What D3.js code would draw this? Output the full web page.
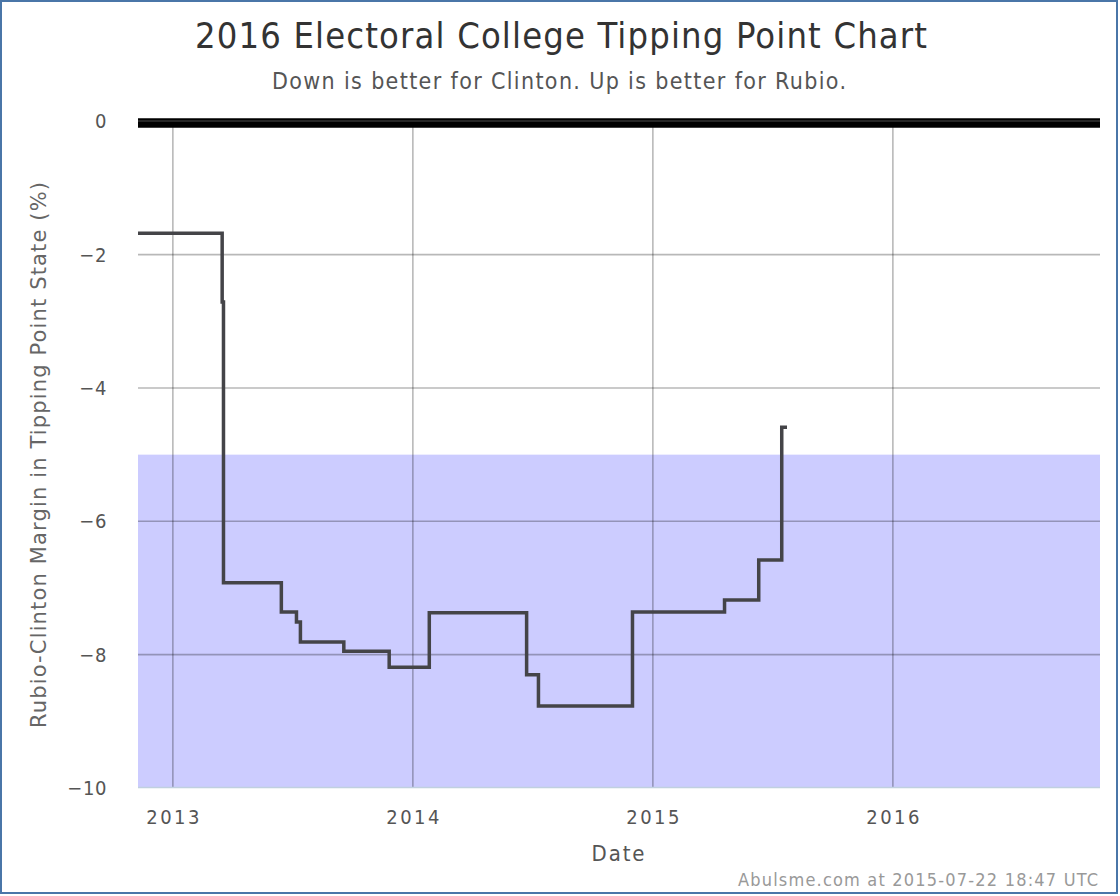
<!DOCTYPE html>
<html>
<head>
<meta charset="utf-8">
<script src="https://cdn.jsdelivr.net/npm/d3@7"></script>
<style>
html,body{margin:0;padding:0;background:#fff;}
svg{display:block;}
text{font-family:"DejaVu Sans Condensed","DejaVu Sans",sans-serif;}
</style>
</head>
<body>
<svg id="chart" width="1120" height="896"></svg>
<script>
const dates = ["2012-11-09","2013-03-17","2013-03-19","2013-06-15","2013-07-08","2013-07-14","2013-09-18","2013-11-26","2014-01-26","2014-06-23","2014-07-11","2014-12-01","2015-04-20","2015-06-11","2015-07-16","2015-07-24"];
const margins = [-1.68,-2.71,-6.92,-7.36,-7.51,-7.81,-7.95,-8.19,-7.37,-8.30,-8.77,-7.36,-7.18,-6.58,-4.59,-4.59];
const yTicks = [0,-2,-4,-6,-8,-10];
const xTickYears = ["2013","2014","2015","2016"];
const xDomain = ["2012-11-09","2016-11-11"];
const bandRange = [-5,-10];

const parse = d3.timeParse("%Y-%m-%d");
const data = dates.map((d,i)=>({date:parse(d), v:margins[i]}));

const svg = d3.select("#chart");
const L=138, R=1100, T=121.3, B=788;
const x = d3.scaleTime().domain(xDomain.map(parse)).range([L,R]);
const y = d3.scaleLinear().domain([0,-10]).range([T,B]);

// border
svg.append("rect").attr("x",1).attr("y",1).attr("width",1116).attr("height",892)
  .attr("fill","none").attr("stroke","#4a76a8").attr("stroke-width",2);

// band
svg.append("rect").attr("x",L).attr("y",y(bandRange[0])).attr("width",R-L)
  .attr("height",y(bandRange[1])-y(bandRange[0])).attr("fill","#ccccff");

// grid
const gridColor = "rgba(0,0,0,0.28)";
const xTickDates = xTickYears.map(s=>parse(s+"-01-01"));
svg.append("g").selectAll("line").data(xTickDates).join("line")
  .attr("x1",d=>x(d)).attr("x2",d=>x(d))
  .attr("y1",T).attr("y2",B).attr("stroke",gridColor).attr("stroke-width",1.6);
svg.append("g").selectAll("line").data(yTicks.filter(t=>t!==0 && t!==-10)).join("line")
  .attr("x1",L).attr("x2",R).attr("y1",d=>y(d)).attr("y2",d=>y(d))
  .attr("stroke",gridColor).attr("stroke-width",1.6);
// bottom axis line
svg.append("line").attr("x1",L).attr("x2",R).attr("y1",B-0.5).attr("y2",B-0.5)
  .attr("stroke","#c0d0e0").attr("stroke-width",1.5);

// zero line
svg.append("line").attr("x1",L).attr("x2",R).attr("y1",y(0)+1.7).attr("y2",y(0)+1.7)
  .attr("stroke","#000").attr("stroke-width",9.4);
svg.append("line").attr("x1",L).attr("x2",R).attr("y1",y(0)-0.3).attr("y2",y(0)-0.3)
  .attr("stroke","#333").attr("stroke-width",1.4);

// y tick labels
svg.append("g").selectAll("text").data(yTicks).join("text")
  .attr("x",107).attr("y",d=>y(d)+7).attr("text-anchor","end")
  .attr("font-size",20).attr("fill","#555").attr("letter-spacing",0.6)
  .text(d=>d3.format("")(d).replace("-","\u2212"));

// x tick labels
svg.append("g").selectAll("text").data(xTickDates).join("text")
  .attr("x",d=>x(d)).attr("y",824).attr("text-anchor","middle")
  .attr("font-size",20).attr("fill","#555")
  .attr("textLength",53).attr("lengthAdjust","spacing")
  .text(d=>d3.timeFormat("%Y")(d));

// step line
const line = d3.line().x(d=>x(d.date)).y(d=>y(d.v)).curve(d3.curveStepAfter);
svg.append("path").datum(data).attr("d",line).attr("fill","none")
  .attr("stroke","#444448").attr("stroke-width",3.5).attr("stroke-linejoin","miter");

// titles
svg.append("text").attr("x",561).attr("y",48).attr("text-anchor","middle")
  .attr("font-size",36).attr("fill","#333")
  .attr("textLength",732).attr("lengthAdjust","spacing")
  .text("2016 Electoral College Tipping Point Chart");
svg.append("text").attr("x",559).attr("y",89).attr("text-anchor","middle")
  .attr("font-size",23).attr("fill","#555")
  .attr("textLength",574).attr("lengthAdjust","spacing")
  .text("Down is better for Clinton. Up is better for Rubio.");
svg.append("text").attr("x",618).attr("y",861).attr("text-anchor","middle")
  .attr("font-size",22).attr("fill","#555")
  .attr("textLength",53).attr("lengthAdjust","spacing")
  .text("Date");
svg.append("text").attr("transform","translate(46,455) rotate(-90)").attr("text-anchor","middle")
  .attr("font-size",21).attr("fill","#666").style("font-family","'DejaVu Sans',sans-serif")
  .attr("textLength",546).attr("lengthAdjust","spacing")
  .text("Rubio-Clinton Margin in Tipping Point State (%)");
svg.append("text").attr("x",1098).attr("y",886).attr("text-anchor","end")
  .attr("font-size",18).attr("fill","#999")
  .attr("textLength",360).attr("lengthAdjust","spacing")
  .text("Abulsme.com at 2015-07-22 18:47 UTC");
</script>
</body>
</html>
